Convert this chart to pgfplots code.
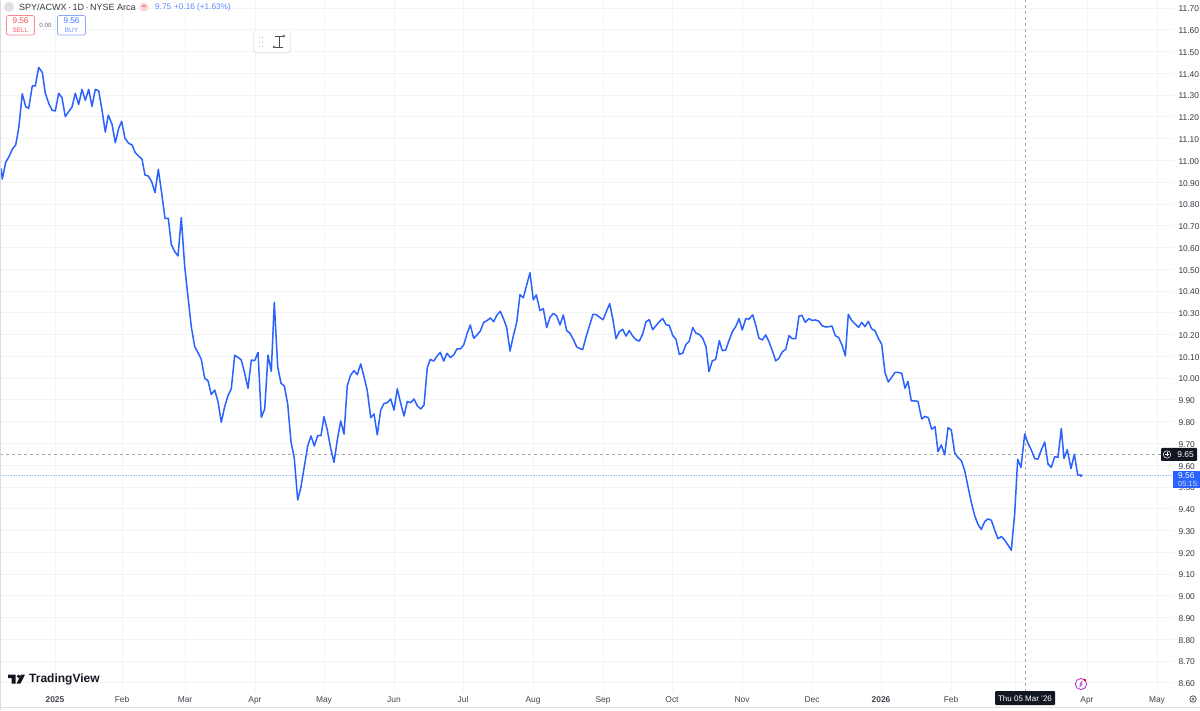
\documentclass[border=0pt]{standalone}
\usepackage{fontspec}
\setmainfont{Liberation Sans}
\usepackage{pgfplots}
\usepackage{pgfplotstable}
\pgfplotsset{compat=1.18}
\definecolor{tvblue}{HTML}{2962FF}
\definecolor{tvgrid}{HTML}{F3F4F6}
\definecolor{tvtext}{HTML}{131722}
\definecolor{tvgrey}{HTML}{6A6D78}
\definecolor{tvred}{HTML}{F7525F}
\definecolor{tvpurple}{HTML}{B23BD6}
\pgfplotstableread{
x y
1.0 10.963
2.3 10.914
5.7 10.991
9.0 11.017
12.3 11.051
15.7 11.071
18.7 11.147
22.3 11.306
25.7 11.247
28.7 11.239
32.3 11.342
35.3 11.342
38.7 11.427
42.3 11.404
45.3 11.308
49.0 11.259
52.0 11.231
55.3 11.227
58.7 11.308
62.0 11.288
65.3 11.201
68.7 11.224
72.0 11.245
75.3 11.308
78.7 11.257
82.0 11.326
85.3 11.276
88.7 11.326
92.0 11.248
95.3 11.326
98.7 11.319
102.0 11.231
105.3 11.130
108.3 11.208
112.0 11.166
115.3 11.081
118.7 11.147
121.7 11.179
125.0 11.101
128.7 11.078
132.0 11.071
135.3 11.035
138.7 11.020
142.0 11.005
145.0 10.933
148.3 10.928
151.7 10.902
155.0 10.852
158.3 10.959
161.7 10.849
165.0 10.734
168.3 10.734
171.3 10.614
174.7 10.581
178.0 10.561
181.3 10.737
184.7 10.512
188.0 10.374
191.3 10.236
194.7 10.144
198.0 10.117
201.3 10.086
204.7 9.999
208.0 9.988
211.3 9.925
214.7 9.945
218.0 9.892
221.3 9.797
224.7 9.869
228.0 9.919
231.3 9.951
234.7 10.105
238.0 10.095
241.3 10.083
244.7 10.022
248.0 9.953
251.3 10.083
254.7 10.080
258.0 10.118
261.3 9.820
264.7 9.858
268.0 10.105
271.3 10.031
274.3 10.348
277.7 10.052
281.0 9.976
284.3 9.964
287.7 9.881
291.0 9.708
294.3 9.631
297.7 9.440
301.0 9.501
304.3 9.593
307.7 9.688
311.0 9.734
314.3 9.688
317.7 9.736
321.0 9.736
324.0 9.823
327.3 9.762
330.7 9.677
334.0 9.613
337.3 9.716
340.7 9.803
344.0 9.743
347.3 9.965
350.7 10.014
354.0 10.034
357.3 10.016
360.7 10.065
364.0 10.007
367.3 9.942
370.7 9.818
374.0 9.835
377.3 9.739
380.7 9.853
384.0 9.883
387.3 9.887
390.7 9.904
394.0 9.853
397.3 9.951
400.7 9.884
404.0 9.826
407.3 9.892
410.7 9.887
414.0 9.904
417.3 9.873
420.7 9.858
424.0 9.876
427.3 10.048
430.3 10.086
433.7 10.078
437.0 10.101
440.3 10.118
443.7 10.078
447.0 10.114
450.3 10.094
453.7 10.106
457.0 10.134
460.3 10.134
463.7 10.152
467.0 10.203
470.3 10.244
473.7 10.183
477.0 10.198
480.3 10.216
483.7 10.256
487.0 10.264
490.3 10.276
493.7 10.259
497.0 10.290
500.3 10.307
503.7 10.270
506.7 10.232
510.0 10.124
513.3 10.193
516.7 10.255
520.0 10.383
523.3 10.369
526.7 10.428
530.0 10.484
533.3 10.359
536.3 10.382
540.0 10.310
543.3 10.319
546.7 10.232
550.0 10.279
553.3 10.297
556.7 10.285
560.0 10.244
563.3 10.290
566.7 10.218
570.0 10.206
573.3 10.178
576.7 10.143
580.0 10.135
582.7 10.131
586.3 10.193
589.7 10.244
593.0 10.293
596.3 10.291
599.7 10.279
603.0 10.268
606.3 10.305
609.7 10.342
613.0 10.267
616.0 10.181
619.3 10.213
622.7 10.224
626.0 10.193
629.3 10.218
632.7 10.193
636.0 10.176
639.3 10.170
642.7 10.203
646.0 10.259
649.3 10.268
652.7 10.222
656.0 10.241
659.3 10.259
662.7 10.274
666.0 10.245
669.3 10.242
672.7 10.196
676.0 10.178
679.3 10.109
682.7 10.114
686.0 10.155
689.3 10.170
692.7 10.232
696.0 10.206
699.3 10.201
702.7 10.183
706.0 10.144
709.0 10.030
712.3 10.079
715.7 10.086
719.3 10.172
722.3 10.126
725.7 10.129
729.0 10.172
732.3 10.213
735.7 10.236
739.0 10.273
742.3 10.221
745.7 10.273
749.0 10.271
752.7 10.290
755.7 10.244
759.0 10.183
762.3 10.175
765.7 10.198
769.0 10.167
772.3 10.126
775.7 10.079
779.0 10.091
782.3 10.121
785.7 10.132
789.0 10.195
792.3 10.181
795.7 10.181
799.0 10.285
802.0 10.288
805.3 10.256
808.7 10.273
812.0 10.265
815.3 10.267
818.7 10.262
822.0 10.241
825.3 10.235
828.7 10.236
832.0 10.239
835.3 10.195
838.7 10.186
842.0 10.152
845.3 10.102
848.3 10.293
851.7 10.264
855.0 10.249
858.7 10.233
861.7 10.256
865.0 10.236
868.3 10.261
871.7 10.226
875.0 10.218
878.3 10.183
881.7 10.155
885.0 10.025
888.3 9.982
891.7 10.004
895.0 10.026
898.3 10.026
901.7 10.022
905.0 9.953
908.0 9.984
911.3 9.895
914.7 9.895
918.0 9.893
921.7 9.812
925.0 9.824
928.3 9.818
931.7 9.765
935.0 9.777
938.0 9.662
941.3 9.693
944.7 9.647
948.0 9.772
951.3 9.762
954.7 9.657
958.0 9.635
961.3 9.621
964.7 9.575
968.0 9.501
971.3 9.429
974.7 9.368
978.0 9.328
981.3 9.305
984.7 9.341
988.0 9.353
991.3 9.347
994.7 9.302
998.0 9.262
1001.3 9.272
1004.7 9.256
1008.0 9.233
1011.3 9.209
1014.7 9.379
1017.7 9.627
1021.0 9.590
1024.7 9.743
1028.0 9.700
1031.3 9.670
1034.7 9.630
1038.0 9.628
1041.3 9.670
1044.7 9.706
1048.0 9.605
1051.3 9.590
1054.7 9.639
1058.0 9.636
1061.3 9.769
1064.0 9.631
1067.3 9.671
1071.0 9.584
1074.3 9.650
1077.7 9.556
1081.0 9.552
}\spyacwx
\begin{document}
\begin{tikzpicture}[x=1pt,y=1pt]
\path[use as bounding box] (0,0) rectangle (1200,710);
\fill[white] (0,0) rectangle (1200,710);
\begin{axis}[
  at={(0pt,18pt)}, anchor=south west,
  scale only axis, width=1173pt, height=692pt,
  xmin=0, xmax=1173, ymin=8.558, ymax=11.7367,
  axis line style={draw=none},
  tick style={draw=none},
  major tick length=0pt,
  xtick={55,122,185,255,324,394,463,533,603,672,742,812,881,951,1015,1087,1157},
  xticklabels={\textbf{2025},Feb,Mar,Apr,May,Jun,Jul,Aug,Sep,Oct,Nov,Dec,\textbf{2026},Feb,{},Apr,May},
  ytick={8.6,8.7,8.8,8.9,9.0,9.1,9.2,9.3,9.4,9.5,9.6,9.7,9.8,9.9,10.0,10.1,10.2,10.3,10.4,10.5,10.6,10.7,10.8,10.9,11.0,11.1,11.2,11.3,11.4,11.5,11.6,11.7},
  yticklabel pos=right,
  yticklabel={\pgfmathprintnumber[fixed,fixed zerofill,precision=2,assume math mode=true]{\tick}},
  yticklabel style={font=\fontsize{8.4}{10}\selectfont, text=tvtext!85, anchor=west, xshift=2pt, yshift=-1pt},
  xticklabel style={font=\fontsize{8.4}{10}\selectfont, text=tvtext!80, anchor=center, text height=6pt, text depth=2pt, yshift=-8pt},
  grid=major,
  major grid style={draw=tvgrid, line width=0.8pt},
  clip=true,
  axis on top=false,
]
\draw[black!35, dash pattern=on 3pt off 3pt, line width=0.7pt] (axis cs:1025,8.558) -- (axis cs:1025,11.7367);
\draw[black!35, dash pattern=on 3pt off 3pt, line width=0.7pt] (axis cs:0,9.649) -- (axis cs:1161,9.649);
\draw[tvblue!40, dash pattern=on 0.8pt off 0.8pt, line width=0.7pt] (axis cs:0,9.552) -- (axis cs:1173,9.552);
\addplot[tvblue, line width=1.5pt, line join=round] table[x=x,y=y] {\spyacwx};
\addplot[only marks, mark=*, mark size=1.2pt, tvblue] coordinates {(1081,9.552)};
\end{axis}
% frame lines
\draw[black!14, line width=1pt] (0.5,0) -- (0.5,710);
\draw[black!12, line width=0.8pt] (0,3) -- (1200,3);
% header
\fill[black!12] (9,703) circle (5);
\node[anchor=west, inner sep=0, font=\fontsize{9}{11}\selectfont, text=tvtext!85] at (19,703) {SPY/ACWX\,·\,1D\,·\,NYSE Arca};
\fill[tvred!25] (144,703) circle (4.5);
\node[font=\fontsize{6}{7}\selectfont\bfseries, text=tvred!90!black] at (144,703) {≈};
\node[anchor=west, inner sep=0, font=\fontsize{8.2}{10}\selectfont, text=tvblue!75] at (155,703) {9.75\hspace{3pt}+0.16 (+1.63\%)};
\draw[tvred!70, rounded corners=2pt, line width=0.7pt, fill=white] (6.5,675) rectangle (34.5,694.5);
\node[font=\fontsize{8.2}{9}\selectfont, text=tvred] at (20.5,689) {9.56};
\node[font=\fontsize{6.4}{7}\selectfont, text=tvred] at (20.5,680) {SELL};
\node[font=\fontsize{6.2}{7}\selectfont, text=tvgrey] at (45.5,684.5) {0.00};
\draw[tvblue!55, rounded corners=2pt, line width=0.7pt, fill=white] (57.5,675) rectangle (85.5,694.5);
\node[font=\fontsize{8.2}{9}\selectfont, text=tvblue!85] at (71.5,689) {9.56};
\node[font=\fontsize{6.4}{7}\selectfont, text=tvblue!70] at (71.5,680) {BUY};
% floating toolbar
\fill[black!8, rounded corners=3pt] (253,656.5) rectangle (291,679);
\fill[white, rounded corners=3pt] (254,658) rectangle (290,679);
\foreach \yy in {663.5,668,672.5}{\fill[black!25] (259.5,\yy) circle (0.7);\fill[black!25] (262.5,\yy) circle (0.7);}
\draw[black!70, line width=0.7pt] (279,663) -- (279,674);
\draw[black!70, line width=0.7pt] (274,663) -- (283,663);
\draw[black!70, line width=0.7pt] (275,674) -- (283,674);
\draw[black!70, line width=0.5pt, fill=white] (274,663) circle (1.1);
\draw[black!70, line width=0.5pt, fill=white] (284,674) circle (1.1);
% logo
\fill[tvtext] (8,35.5) -- (15.5,35.5) -- (15.5,26.5) -- (11.7,26.5) -- (11.7,32) -- (8,32) -- cycle;
\fill[tvtext] (18.6,33.6) circle (1.9);
\fill[tvtext] (21,35.5) -- (25,35.5) -- (20.6,26.5) -- (16.6,26.5) -- cycle;
\node[anchor=west, inner sep=0, font=\fontsize{12}{15}\selectfont\bfseries, text=tvtext] at (29,31) {TradingView};
% crosshair price label
\fill[tvtext, rounded corners=1pt] (1161,249) rectangle (1197,262);
\draw[white, line width=0.5pt] (1167,255.5) circle (3.7);
\draw[white, line width=0.5pt] (1165,255.5) -- (1169,255.5) (1167,253.5) -- (1167,257.5);
\node[font=\fontsize{8.4}{10}\selectfont, text=white] at (1185.5,255.5) {9.65};
% last price label
\fill[tvblue] (1173,222) rectangle (1200,239);
\node[anchor=west, inner sep=0, font=\fontsize{8.4}{10}\selectfont, text=white] at (1178,234.5) {9.56};
\node[anchor=west, inner sep=0, font=\fontsize{7.5}{10}\selectfont, text=white!80!tvblue] at (1178,226) {05:15:};
% date label
\fill[tvtext, rounded corners=1pt] (995,5) rectangle (1055,19);
\node[font=\fontsize{8}{10}\selectfont, text=white] at (1025,11.8) {Thu 05 Mar '26};
% bolt icon
\draw[tvpurple, line width=0.9pt, fill=white] (1081,26) circle (5.6);
\draw[tvpurple, line width=0.8pt] (1082.4,29) -- (1080,26) -- (1082,26) -- (1079.6,23);
\fill[red!90!black] (1084.8,30) circle (1.4);
% gear icon
\draw[black!65, line width=0.8pt] (1193,11) circle (3.2);
\draw[black!65, line width=0.6pt] (1193,11) circle (1.2);
\end{tikzpicture}
\end{document}
